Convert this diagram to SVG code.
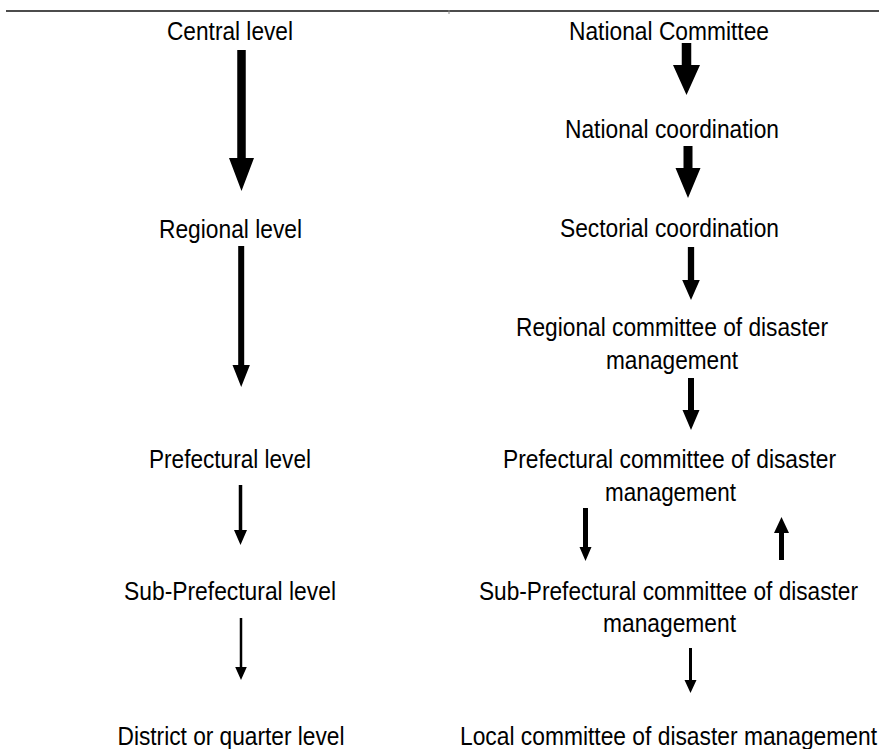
<svg xmlns="http://www.w3.org/2000/svg" width="879" height="749" viewBox="0 0 879 749">
  <style>
    .lbl { font-family: "Liberation Sans", Arial, sans-serif; font-size: 26px; fill: #000; text-anchor: middle; }
    .arr { fill: #000; }
    .rule { stroke: #111; stroke-width: 1.3; fill: none; }
  </style>
  <rect width="879" height="749" fill="#fff"/>

  <!-- table top rule -->
  <g id="top-rule">
    <line class="rule" x1="6" y1="11" x2="879" y2="11"/>
    <line x1="449" y1="10" x2="449" y2="14" stroke="#888" stroke-width="1"/>
  </g>

  <!-- left column: administrative levels -->
  <g id="central-level"><text class="lbl" x="230" y="39.5" textLength="126" lengthAdjust="spacingAndGlyphs">Central level</text></g>
  <g id="regional-level"><text class="lbl" x="230.5" y="237.5" textLength="143" lengthAdjust="spacingAndGlyphs">Regional level</text></g>
  <g id="prefectural-level"><text class="lbl" x="230" y="468" textLength="162" lengthAdjust="spacingAndGlyphs">Prefectural level</text></g>
  <g id="sub-prefectural-level"><text class="lbl" x="230" y="599.5" textLength="212" lengthAdjust="spacingAndGlyphs">Sub-Prefectural level</text></g>
  <g id="district-level"><text class="lbl" x="231" y="745" textLength="227" lengthAdjust="spacingAndGlyphs">District or quarter level</text></g>

  <!-- right column: committees -->
  <g id="national-committee"><text class="lbl" x="669" y="39.5" textLength="200" lengthAdjust="spacingAndGlyphs">National Committee</text></g>
  <g id="national-coordination"><text class="lbl" x="672" y="137.5" textLength="214" lengthAdjust="spacingAndGlyphs">National coordination</text></g>
  <g id="sectorial-coordination"><text class="lbl" x="669.5" y="236.5" textLength="219" lengthAdjust="spacingAndGlyphs">Sectorial coordination</text></g>
  <g id="regional-committee">
    <text class="lbl" x="672" y="336" textLength="312" lengthAdjust="spacingAndGlyphs">Regional committee of disaster</text>
    <text class="lbl" x="672" y="368.5" textLength="132" lengthAdjust="spacingAndGlyphs">management</text>
  </g>
  <g id="prefectural-committee">
    <text class="lbl" x="669.5" y="468" textLength="333" lengthAdjust="spacingAndGlyphs">Prefectural committee of disaster</text>
    <text class="lbl" x="670.5" y="500.5" textLength="131" lengthAdjust="spacingAndGlyphs">management</text>
  </g>
  <g id="sub-prefectural-committee">
    <text class="lbl" x="668.5" y="599.5" textLength="379" lengthAdjust="spacingAndGlyphs">Sub-Prefectural committee of disaster</text>
    <text class="lbl" x="669.5" y="632" textLength="133" lengthAdjust="spacingAndGlyphs">management</text>
  </g>
  <g id="local-committee"><text class="lbl" x="668.5" y="745" textLength="417" lengthAdjust="spacingAndGlyphs">Local committee of disaster management</text></g>

  <!-- connectors: block arrows, thinning toward lower levels -->
  <g id="connectors" class="arr">
    <path d="M237.25,50 H245.75 V158 H254 L241.5,191 L229,158 H237.25 Z"/>
    <path d="M238.2,246 H244.2 V365 H249.9 L241.2,387 L232.5,365 H238.2 Z"/>
    <path d="M238.75,485 H242.25 V530 H247 L240.5,545 L234,530 H238.75 Z"/>
    <path d="M239.75,618 H242.25 V667 H246.8 L241,680 L235.2,667 H239.75 Z"/>

    <path d="M681.75,43 H691.25 V65 H700 L686.5,95 L673,65 H681.75 Z"/>
    <path d="M683.5,146 H692.5 V168 H700.5 L688,198 L675.5,168 H683.5 Z"/>
    <path d="M687.85,247 H694.15 V280 H699.8 L691,300 L682.2,280 H687.85 Z"/>
    <path d="M688,378 H694 V410 H699.5 L691,430 L682.5,410 H688 Z"/>
    <path d="M583,508 H588 V547 H591.5 L585.5,561 L579.5,547 H583 Z"/>
    <path d="M779,560 H784 V533 H789 L781.5,517 L774,533 H779 Z"/>
    <path d="M689,648 H692 V680 H696.5 L690.5,693 L684.5,680 H689 Z"/>
  </g>
</svg>
